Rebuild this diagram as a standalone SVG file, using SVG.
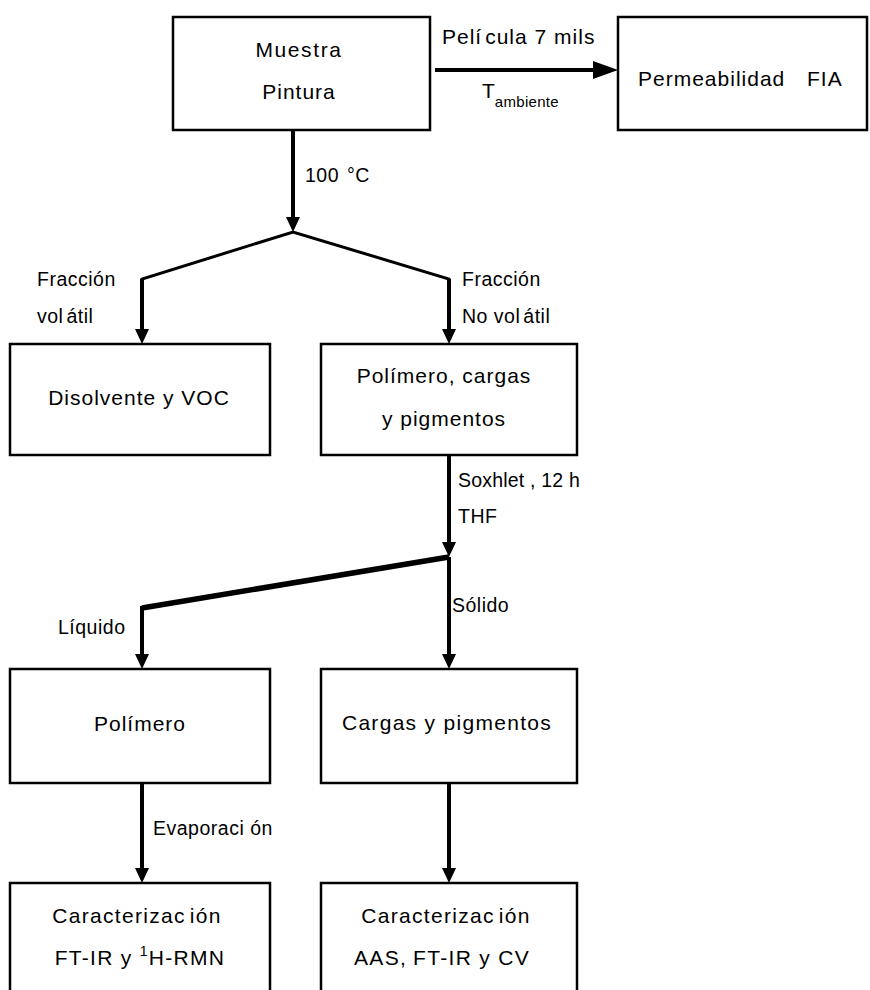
<svg xmlns="http://www.w3.org/2000/svg" width="870" height="990" viewBox="0 0 870 990">
<style>
.box{fill:#fff;stroke:#000;stroke-width:2.5}
.t{font-family:"Liberation Sans",Arial,sans-serif;font-size:21px;letter-spacing:1px;fill:#000}
.m{text-anchor:middle}
.l{font-family:"Liberation Sans",Arial,sans-serif;font-size:19.5px;letter-spacing:0.5px;fill:#000}
.ln{stroke:#000;stroke-width:4;fill:none}
.dg{stroke:#000;stroke-width:3;fill:none}
</style>
<defs>
<marker id="ah" markerUnits="userSpaceOnUse" markerWidth="15" markerHeight="14" refX="0" refY="7" orient="auto">
<path d="M0,0 L15,7 L0,14 z" fill="#000"/>
</marker>
<marker id="ahb" markerUnits="userSpaceOnUse" markerWidth="25" markerHeight="18" refX="0" refY="9" orient="auto">
<path d="M0,0 L25,9 L0,18 z" fill="#000"/>
</marker>
</defs>
<rect width="870" height="990" fill="#fff"/>
<g id="connectors">
<line class="ln" x1="435" y1="70" x2="593" y2="70" marker-end="url(#ahb)"/>
<line class="ln" x1="293" y1="130" x2="293" y2="217" marker-end="url(#ah)"/>
<polyline class="dg" points="142,281 142,279 293,232 449,279 449,281"/>
<line class="ln" x1="142" y1="279" x2="142" y2="329" marker-end="url(#ah)"/>
<line class="ln" x1="449" y1="279" x2="449" y2="329" marker-end="url(#ah)"/>
<line class="ln" x1="449" y1="455" x2="449" y2="542" marker-end="url(#ah)"/>
<line stroke="#000" stroke-width="5.5" x1="449" y1="557" x2="142" y2="608"/>
<line class="ln" x1="142" y1="606" x2="142" y2="654" marker-end="url(#ah)"/>
<line class="ln" x1="449" y1="557" x2="449" y2="654" marker-end="url(#ah)"/>
<line class="ln" x1="142" y1="783" x2="142" y2="868" marker-end="url(#ah)"/>
<line class="ln" x1="449" y1="783" x2="449" y2="868" marker-end="url(#ah)"/>
<text class="l" x="442" y="44" style="font-size:21px;letter-spacing:1px">Pelí<tspan dx="3">cula 7 mils</tspan></text>
<text class="t" x="482" y="98" style="letter-spacing:0">T<tspan font-size="15" dy="9" style="letter-spacing:0.3px">ambiente</tspan></text>
<text class="l" x="305" y="182">100<tspan x="347">°C</tspan></text>
<text class="l" x="37" y="286">Fracción</text>
<text class="l" x="37" y="323">vol<tspan dx="3">átil</tspan></text>
<text class="l" x="462" y="286">Fracción</text>
<text class="l" x="462" y="323">No vol<tspan dx="3">átil</tspan></text>
<text class="l" x="458" y="487" style="letter-spacing:0.2px">Soxhlet , 12 h</text>
<text class="l" x="458" y="523">THF</text>
<text class="l" x="58" y="634">Líquido</text>
<text class="l" x="452" y="612">Sólido</text>
<text class="l" x="153" y="835">Evaporaci ón</text>
</g>
<g id="muestra">
<rect class="box" x="173" y="17" width="257" height="113"/>
<text class="t m" x="299" y="57" style="letter-spacing:1.6px">Muestra</text>
<text class="t m" x="299" y="99">Pintura</text>
</g>
<g id="permeabilidad">
<rect class="box" x="618" y="17" width="249" height="113"/>
<text class="t" x="638" y="86">Permeabilidad<tspan x="807">FIA</tspan></text>
</g>
<g id="disolvente">
<rect class="box" x="10" y="344" width="260" height="111"/>
<text class="t m" x="139" y="405">Disolvente y VOC</text>
</g>
<g id="polimero-cargas">
<rect class="box" x="321" y="344" width="256" height="111"/>
<text class="t m" x="444" y="383">Polímero, cargas</text>
<text class="t m" x="444" y="426">y pigmentos</text>
</g>
<g id="polimero">
<rect class="box" x="10" y="669" width="260" height="114"/>
<text class="t m" x="140" y="731">Polímero</text>
</g>
<g id="cargas">
<rect class="box" x="321" y="669" width="256" height="114"/>
<text class="t m" x="447" y="730" style="letter-spacing:1.3px">Cargas y pigmentos</text>
</g>
<g id="caract-1">
<rect class="box" x="10" y="883" width="260" height="120"/>
<text class="t m" x="137" y="923" style="letter-spacing:1.3px">Caracterizac<tspan dx="4">ión</tspan></text>
<text class="t m" x="140" y="965" style="letter-spacing:1.3px">FT-IR y <tspan font-size="14" dy="-9">1</tspan><tspan dy="9">H-RMN</tspan></text>
</g>
<g id="caract-2">
<rect class="box" x="321" y="883" width="256" height="120"/>
<text class="t m" x="446" y="923" style="letter-spacing:1.3px">Caracterizac<tspan dx="4">ión</tspan></text>
<text class="t m" x="442" y="965" style="letter-spacing:1.3px">AAS,<tspan dx="6">FT-IR y CV</tspan></text>
</g>
</svg>
